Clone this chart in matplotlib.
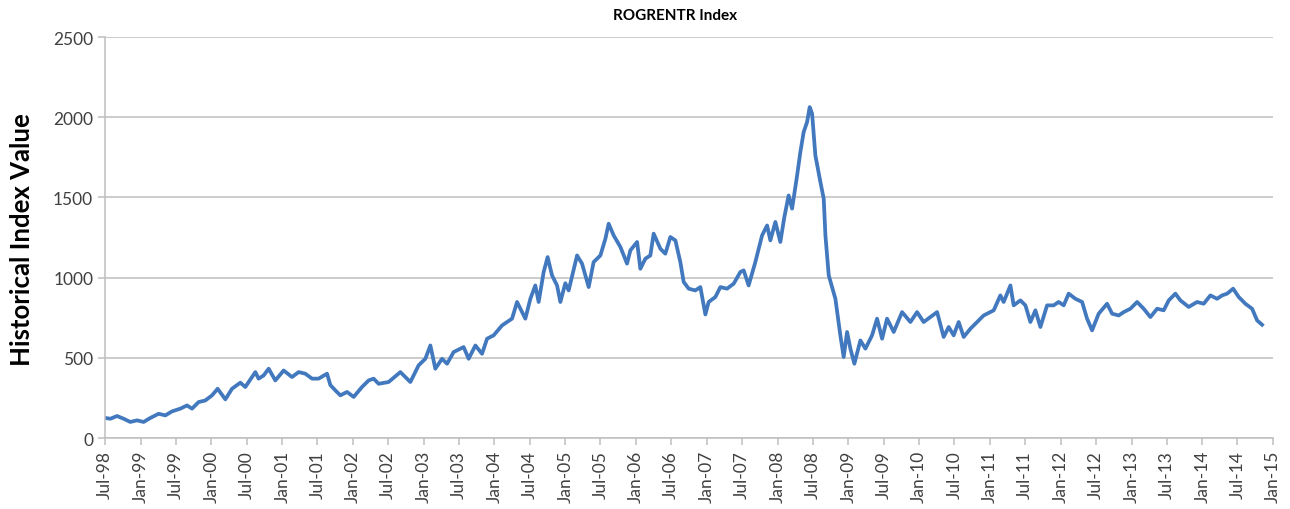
import numpy as np
import pandas as pd
import matplotlib
matplotlib.use("Agg")
import matplotlib.pyplot as plt
import matplotlib.dates as mdates

# index values, x as decimal years
years = [1998.500, 1998.571, 1998.665, 1998.759, 1998.853, 1998.948, 1999.041, 1999.136, 1999.253, 1999.348,
         1999.443, 1999.560, 1999.654, 1999.725, 1999.818, 1999.913, 2000.008, 2000.087, 2000.196, 2000.290,
         2000.408, 2000.478, 2000.573, 2000.620, 2000.666, 2000.737, 2000.808, 2000.902, 2001.020, 2001.138,
         2001.232, 2001.326, 2001.421, 2001.514, 2001.633, 2001.680, 2001.750, 2001.821, 2001.916, 2002.009,
         2002.127, 2002.221, 2002.291, 2002.362, 2002.503, 2002.669, 2002.810, 2002.927, 2003.022, 2003.093,
         2003.163, 2003.258, 2003.329, 2003.422, 2003.563, 2003.634, 2003.729, 2003.823, 2003.894, 2003.987,
         2004.106, 2004.176, 2004.247, 2004.318, 2004.388, 2004.435, 2004.506, 2004.576, 2004.623, 2004.694,
         2004.750, 2004.812, 2004.883, 2004.930, 2005.000, 2005.047, 2005.166, 2005.236, 2005.330, 2005.400,
         2005.495, 2005.566, 2005.612, 2005.683, 2005.778, 2005.872, 2005.919, 2006.014, 2006.060, 2006.131,
         2006.201, 2006.248, 2006.343, 2006.413, 2006.484, 2006.555, 2006.625, 2006.672, 2006.743, 2006.837,
         2006.908, 2006.979, 2007.025, 2007.120, 2007.191, 2007.285, 2007.379, 2007.473, 2007.520, 2007.590,
         2007.685, 2007.780, 2007.851, 2007.897, 2007.968, 2008.038, 2008.095, 2008.155, 2008.204, 2008.275,
         2008.321, 2008.368, 2008.416, 2008.453, 2008.487, 2008.533, 2008.604, 2008.651, 2008.675, 2008.722,
         2008.816, 2008.886, 2008.933, 2008.981, 2009.028, 2009.084, 2009.169, 2009.240, 2009.334, 2009.405,
         2009.476, 2009.546, 2009.640, 2009.758, 2009.876, 2009.970, 2010.063, 2010.158, 2010.253, 2010.346,
         2010.417, 2010.487, 2010.558, 2010.629, 2010.723, 2010.818, 2010.911, 2011.053, 2011.147, 2011.194,
         2011.289, 2011.335, 2011.430, 2011.501, 2011.571, 2011.642, 2011.713, 2011.807, 2011.900, 2011.971,
         2012.042, 2012.112, 2012.207, 2012.302, 2012.372, 2012.443, 2012.536, 2012.655, 2012.726, 2012.819,
         2012.890, 2012.984, 2013.079, 2013.172, 2013.267, 2013.362, 2013.455, 2013.526, 2013.620, 2013.691,
         2013.808, 2013.927, 2014.020, 2014.115, 2014.209, 2014.280, 2014.351, 2014.436, 2014.515, 2014.609,
         2014.704, 2014.775, 2014.845]
values = [125, 120, 137, 120, 100, 110, 100, 125, 151, 141,
          166, 183, 203, 183, 224, 234, 266, 307, 241, 307,
          345, 318, 380, 411, 370, 390, 432, 359, 421, 380,
          411, 401, 370, 370, 401, 330, 297, 266, 287, 256,
          318, 359, 370, 338, 349, 411, 349, 453, 494, 577,
          432, 494, 463, 536, 567, 494, 577, 525, 619, 640,
          702, 723, 744, 848, 785, 744, 868, 951, 848, 1035,
          1128, 1014, 951, 848, 965, 920, 1138, 1087, 941, 1097,
          1138, 1242, 1336, 1263, 1191, 1087, 1170, 1222, 1055, 1118,
          1138, 1274, 1180, 1149, 1253, 1232, 1097, 973, 931, 920,
          941, 770, 848, 879, 941, 931, 962, 1035, 1045, 951,
          1097, 1263, 1325, 1232, 1347, 1222, 1378, 1512, 1430, 1637,
          1783, 1908, 1970, 2063, 2022, 1762, 1596, 1492, 1263, 1014,
          868, 640, 505, 661, 557, 463, 608, 557, 640, 744,
          619, 744, 661, 785, 723, 785, 723, 754, 785, 630,
          692, 640, 723, 630, 681, 723, 764, 796, 889, 848,
          951, 827, 858, 827, 723, 796, 692, 827, 827, 848,
          827, 900, 868, 848, 744, 671, 775, 837, 775, 764,
          785, 806, 848, 806, 754, 806, 796, 858, 900, 858,
          817, 848, 837, 889, 868, 889, 900, 931, 879, 837,
          806, 733, 706]

y_ticks = [0, 500, 1000, 1500, 2000, 2500]

# decimal year -> timestamp
dates = [pd.Timestamp('1998-01-01') + pd.Timedelta(days=(y - 1998) * 365.25) for y in years]
tick_dates = pd.date_range('1998-07-01', '2015-01-01', freq='6MS')

plt.rcParams['font.family'] = ['Lato', 'DejaVu Sans']

fig = plt.figure(figsize=(12.9, 5.1), dpi=100)
ax = fig.add_axes([105/1290, 1 - 439/510, (1273-105)/1290, (439-38)/510])

ax.plot(dates, values, color='#4178BE', linewidth=2.7, solid_joinstyle='round')

ax.set_xlim(tick_dates[0], tick_dates[-1])
ax.set_ylim(0, 2500)
ax.set_yticks(y_ticks)
ax.set_xticks(tick_dates)
ax.xaxis.set_major_formatter(mdates.DateFormatter('%b-%y'))
plt.setp(ax.get_xticklabels(), rotation=90)

ax.grid(axis='y', color='#BFBFBF', linewidth=1.1)
ax.set_axisbelow(True)
for s in ['top', 'right']:
    ax.spines[s].set_visible(False)
for s in ['left', 'bottom']:
    ax.spines[s].set_color('#BFBFBF')
    ax.spines[s].set_linewidth(1.1)
ax.tick_params(axis='both', colors='#BFBFBF', labelcolor='#404040', labelsize=12.5, length=5, width=1.1)

fig.text(22/1290, 1 - 240/510, 'Historical Index Value', rotation=90, ha='center', va='center',
         fontsize=18.5, fontweight='bold')
fig.text(675/1290, 1 - 16/510, 'ROGRENTR Index', ha='center', va='center', fontsize=11, fontweight='bold')

fig.savefig('out.png', dpi=100)
